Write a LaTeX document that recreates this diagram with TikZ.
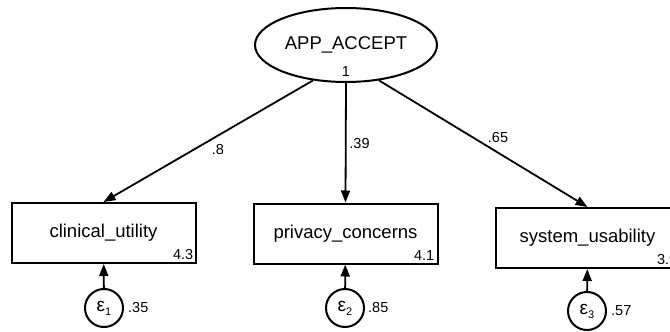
\documentclass[tikz,border=0pt]{standalone}
\usepackage{fontspec}
\setmainfont{Liberation Sans}
\usetikzlibrary{shapes.geometric,arrows.meta}
\begin{document}
\begin{tikzpicture}[x=1pt,y=-1pt,
  obs/.style={draw, line width=2pt, minimum width=184pt, minimum height=60pt, inner sep=0pt,
    font=\fontsize{18.5}{20}\selectfont},
  lat/.style={draw, ellipse, line width=2pt, minimum width=182pt, minimum height=74pt, inner sep=0pt,
    font=\fontsize{18.5}{20}\selectfont},
  err/.style={draw, circle, line width=2pt, minimum size=38pt, inner sep=0pt,
    font=\fontsize{19}{20}\selectfont},
  num/.style={font=\fontsize{14.5}{15}\selectfont, inner sep=0pt},
  link/.style={line width=1.8pt, -{Triangle[length=12pt,width=9pt]}}
]
\useasboundingbox (0,0) rectangle (670,332);
\clip (0,0) rectangle (670,332);

% latent variable
\node[lat] (lv) at (346,45) {APP\_ACCEPT};
\node[num, anchor=center] (lvv) at (346,72) {1};

% observed indicators
\node[obs] (b1) at (103.5,233) {clinical\_utility};
\node[obs] (b2) at (345.5,233.5) {privacy\_concerns};
\node[obs] (b3) at (587.5,238) {system\_usability};
\node[num, anchor=south east] (b1v) at ([shift={(-3pt,4pt)}]b1.south east) {4.3};
\node[num, anchor=south east] (b2v) at ([shift={(-4pt,4pt)}]b2.south east) {4.1};
\node[num, anchor=south east] (b3v) at ([shift={(-3pt,4pt)}]b3.south east) {3.9};

% error terms
\node[err] (e1) at (104,308) {ε\raisebox{-4pt}{\fontsize{11}{11}\selectfont 1}};
\node[err] (e2) at (345,308) {ε\raisebox{-4pt}{\fontsize{11}{11}\selectfont 2}};
\node[err] (e3) at (587,311) {ε\raisebox{-4pt}{\fontsize{11}{11}\selectfont 3}};
\node[num, anchor=west] (e1v) at ([xshift=4pt]e1.east) {.35};
\node[num, anchor=west] (e2v) at ([xshift=3pt]e2.east) {.85};
\node[num, anchor=west] (e3v) at ([xshift=4pt]e3.east) {.57};

% loadings
\draw[link] (lv.227.5) -- (b1.north);
\draw[link] (lv.south) -- (b2.north);
\draw[link] (lv.313.4) -- (b3.north);
\node[num] (l1) at (218,150) {.8};
\node[num] (l2) at (359.5,144) {.39};
\node[num] (l3) at (498,138) {.65};

% error paths
\draw[link] (e1) -- (b1);
\draw[link] (e2) -- (b2);
\draw[link] (e3) -- (b3);
\end{tikzpicture}
\end{document}
